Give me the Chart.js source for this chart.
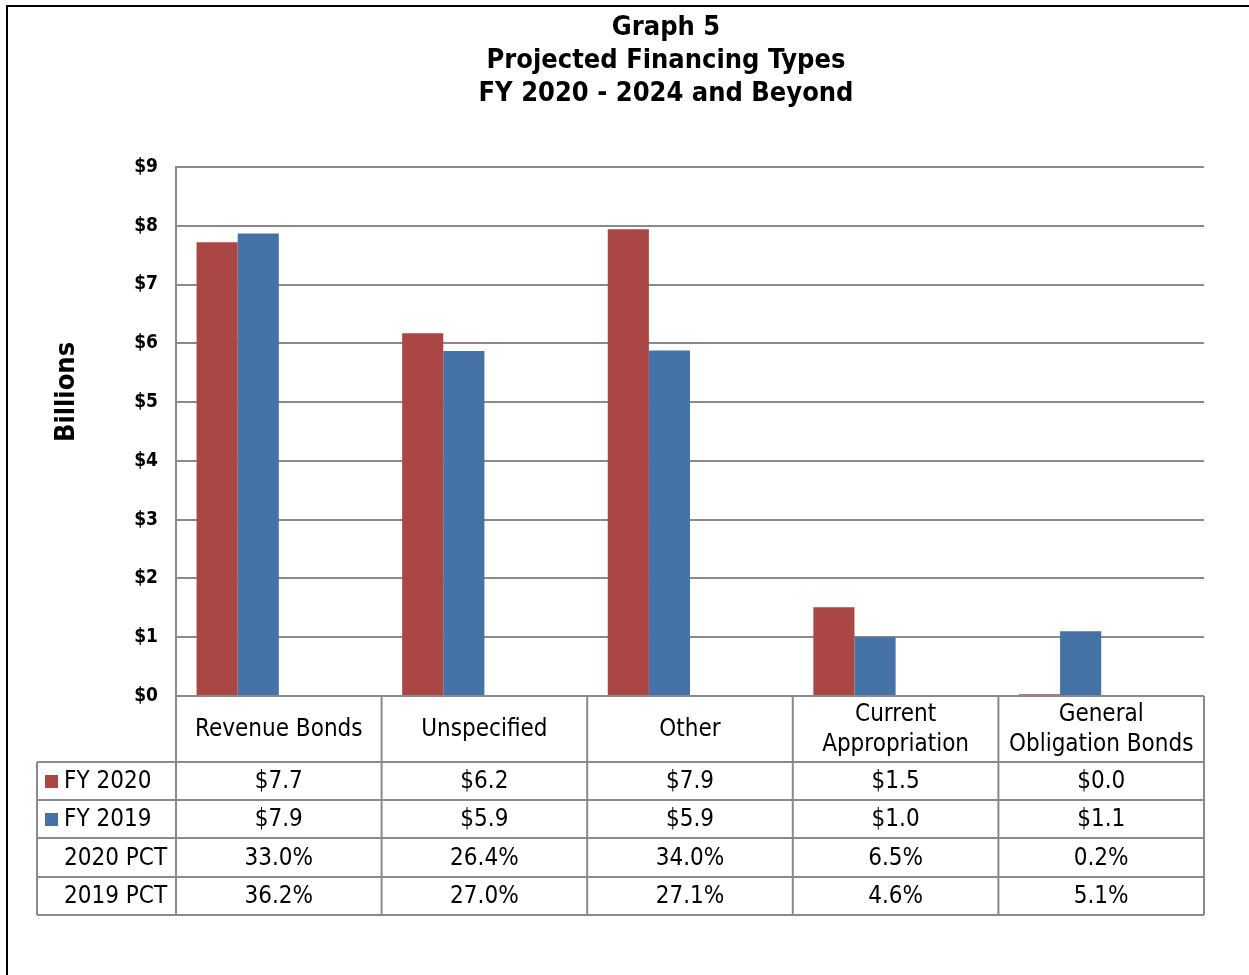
<!DOCTYPE html>
<html>
<head>
<meta charset="utf-8">
<script src="https://cdn.jsdelivr.net/npm/chart.js@4"></script>
<style>
  body { margin: 0; background: #fff; }
  #wrap { width: 1249px; height: 975px; }
</style>
</head>
<body>
<div id="wrap"><canvas id="grafico"></canvas></div>
<script>
// Dados do gráfico
const categorias = ['Revenue Bonds', 'Unspecified', 'Other', ['Current', 'Appropriation'], ['General', 'Obligation Bonds']];
const fy2020 = [7.72, 6.17, 7.94, 1.51, 0.03];
const fy2019 = [7.87, 5.87, 5.88, 1.00, 1.10];
const pct2020 = [33.0, 26.4, 34.0, 6.5, 0.2];
const pct2019 = [36.2, 27.0, 27.1, 4.6, 5.1];
const ticksY = ['$0', '$1', '$2', '$3', '$4', '$5', '$6', '$7', '$8', '$9'];
const titulo = ['Graph 5', 'Projected Financing Types', 'FY 2020 - 2024 and Beyond'];

const vermelho = '#AA4643';
const azul = '#4572A7';
const fonte = '"DejaVu Sans Condensed", "DejaVu Sans", sans-serif';

// Moldura, título e rótulo do eixo
const moldura = {
  id: 'moldura',
  beforeDraw(chart) {
    const ctx = chart.ctx;
    ctx.save();
    ctx.fillStyle = '#fff';
    ctx.fillRect(0, 0, chart.width, chart.height);
    ctx.strokeStyle = '#000';
    ctx.lineWidth = 2;
    ctx.strokeRect(7, 6, chart.width + 20, chart.height + 20);
    ctx.restore();
  },
  afterDraw(chart) {
    const ctx = chart.ctx;
    ctx.save();
    ctx.fillStyle = '#000';
    ctx.textAlign = 'center';
    ctx.textBaseline = 'middle';
    ctx.font = 'bold 27px ' + fonte;
    titulo.forEach((t, i) => ctx.fillText(t, 666, 28 + i * 33));
    ctx.translate(67, 392);
    ctx.rotate(-Math.PI / 2);
    ctx.font = 'bold 27px ' + fonte;
    ctx.fillText('Billions', 0, 0);
    ctx.restore();
  }
};

// Tabela de dados abaixo do eixo X
const tabela = {
  id: 'tabela',
  afterDraw(chart) {
    const ctx = chart.ctx;
    const x = chart.scales.x;
    const topo = chart.chartArea.bottom;
    const alturas = [66, 38, 38, 39, 38];
    const esq = 37;
    const bordas = categorias.map((c, i) => x.getPixelForValue(i - 0.5));
    bordas.push(x.getPixelForValue(categorias.length - 0.5));
    const ys = [topo];
    alturas.forEach(h => ys.push(ys[ys.length - 1] + h));

    const linhas = [
      { nome: 'FY 2020', cor: vermelho, vals: fy2020.map(v => '$' + v.toFixed(1)) },
      { nome: 'FY 2019', cor: azul, vals: fy2019.map(v => '$' + v.toFixed(1)) },
      { nome: '2020 PCT', cor: null, vals: pct2020.map(v => v.toFixed(1) + '%') },
      { nome: '2019 PCT', cor: null, vals: pct2019.map(v => v.toFixed(1) + '%') }
    ];

    ctx.save();
    ctx.strokeStyle = '#8a8a8a';
    ctx.lineWidth = 2;
    // linhas horizontais
    ctx.beginPath();
    ctx.moveTo(bordas[0], ys[0]); ctx.lineTo(bordas[bordas.length - 1], ys[0]);
    for (let r = 1; r < ys.length; r++) {
      ctx.moveTo(esq, ys[r]); ctx.lineTo(bordas[bordas.length - 1], ys[r]);
    }
    // linhas verticais
    bordas.forEach(b => { ctx.moveTo(b, ys[0]); ctx.lineTo(b, ys[ys.length - 1]); });
    ctx.moveTo(esq, ys[1]); ctx.lineTo(esq, ys[ys.length - 1]);
    ctx.stroke();

    ctx.fillStyle = '#000';
    ctx.textBaseline = 'middle';
    ctx.font = '24px ' + fonte;
    // cabeçalho
    ctx.textAlign = 'center';
    categorias.forEach((c, i) => {
      const cx = x.getPixelForValue(i);
      const cy = (ys[0] + ys[1]) / 2 + 1;
      if (Array.isArray(c)) {
        ctx.fillText(c[0], cx, cy - 15);
        ctx.fillText(c[1], cx, cy + 15);
      } else {
        ctx.fillText(c, cx, cy);
      }
    });
    // linhas de valores
    linhas.forEach((l, r) => {
      const cy = (ys[r + 1] + ys[r + 2]) / 2 + 1;
      if (l.cor) {
        ctx.fillStyle = l.cor;
        ctx.fillRect(45, cy - 7, 13, 13);
      }
      ctx.fillStyle = '#000';
      ctx.textAlign = 'left';
      ctx.fillText(l.nome, 64, cy);
      ctx.textAlign = 'center';
      l.vals.forEach((v, i) => ctx.fillText(v, x.getPixelForValue(i), cy));
    });
    ctx.restore();
  }
};

new Chart(document.getElementById('grafico'), {
  type: 'bar',
  data: {
    labels: categorias,
    datasets: [
      { label: 'FY 2020', data: fy2020, backgroundColor: vermelho },
      { label: 'FY 2019', data: fy2019, backgroundColor: azul },
      { label: '2020 PCT', data: pct2020.map(v => v / 100), backgroundColor: 'rgba(0,0,0,0)' },
      { label: '2019 PCT', data: pct2019.map(v => v / 100), backgroundColor: 'rgba(0,0,0,0)' }
    ]
  },
  options: {
    responsive: true,
    maintainAspectRatio: false,
    animation: false,
    categoryPercentage: 0.8,
    barPercentage: 1.0,
    layout: { padding: { left: 0, right: 45, top: 167, bottom: 279 } },
    plugins: {
      legend: { display: false },
      tooltip: { enabled: false }
    },
    scales: {
      x: {
        grid: { display: false },
        border: { display: false },
        ticks: { display: false },
        afterFit(s) { s.height = 0; }
      },
      y: {
        min: 0,
        max: 9,
        ticks: {
          stepSize: 1,
          color: '#000',
          padding: 18,
          font: { family: fonte, size: 19, weight: 'bold' },
          callback: (v) => ticksY[v]
        },
        grid: { color: '#8a8a8a', lineWidth: 2, drawTicks: false },
        border: { color: '#8a8a8a', width: 2 },
        afterFit(s) { s.width = 176; }
      }
    }
  },
  plugins: [moldura, tabela]
});
</script>
</body>
</html>
